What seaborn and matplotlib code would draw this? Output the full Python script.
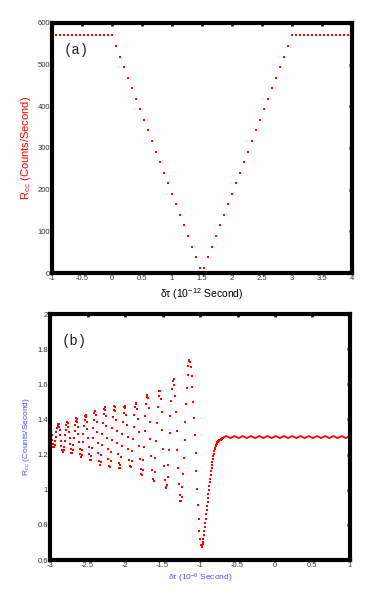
import pandas as pd
import seaborn as sns
import matplotlib
matplotlib.use('Agg')
import matplotlib.pyplot as plt

# Panel (a): coincidence rate vs delay, 10^-12 s
a_delay = [-1.0, -0.933, -0.867, -0.8, -0.733, -0.667, -0.6, -0.533, -0.467, -0.4,
           -0.333, -0.267, -0.2, -0.133, -0.067, 0.0, 0.067, 0.133, 0.2, 0.267,
           0.333, 0.4, 0.467, 0.533, 0.6, 0.667, 0.733, 0.8, 0.867, 0.933,
           1.0, 1.067, 1.133, 1.2, 1.267, 1.333, 1.4, 1.467, 1.533, 1.6,
           1.667, 1.733, 1.8, 1.867, 1.933, 2.0, 2.067, 2.133, 2.2, 2.267,
           2.333, 2.4, 2.467, 2.533, 2.6, 2.667, 2.733, 2.8, 2.867, 2.933,
           3.0, 3.067, 3.133, 3.2, 3.267, 3.333, 3.4, 3.467, 3.533, 3.6,
           3.667, 3.733, 3.8, 3.867, 3.933, 4.0]
a_rate = [570] * 16 + [545, 519, 494, 469, 443, 418, 393, 367, 342, 317, 291, 266,
                       241, 215, 190, 165, 139, 114, 89, 63, 38, 13,
                       13, 38, 63, 89, 114, 139, 165, 190, 215, 241, 266, 291,
                       317, 342, 367, 393, 418, 443, 469, 494, 519, 545] + [570] * 16

# Panel (b): coincidence rate vs delay, 10^-8 s (dotted part, one row per half swing)
b_osc_delay = [
    -3.0000, -2.9958, -2.9875, -2.9792, -2.9708, -2.9625, -2.9542,
    -2.9444, -2.9369, -2.9294, -2.9219, -2.9144, -2.9069, -2.8994, -2.8919,
    -2.8863, -2.8788, -2.8713, -2.8638, -2.8563, -2.8488, -2.8413, -2.8338,
    -2.8281, -2.8206, -2.8131, -2.8056, -2.7981, -2.7906, -2.7831, -2.7756,
    -2.7700, -2.7625, -2.7550, -2.7475, -2.7400, -2.7325, -2.7250, -2.7175,
    -2.7043, -2.6967, -2.6890, -2.6814, -2.6738, -2.6662, -2.6585, -2.6509,
    -2.6452, -2.6376, -2.6299, -2.6223, -2.6147, -2.6071, -2.5994, -2.5918,
    -2.5861, -2.5783, -2.5706, -2.5628, -2.5551, -2.5473, -2.5396, -2.5318,
    -2.5260, -2.5181, -2.5102, -2.5024, -2.4945, -2.4866, -2.4787, -2.4709,
    -2.4571, -2.4492, -2.4413, -2.4335, -2.4256, -2.4177, -2.4098, -2.4020,
    -2.3960, -2.3880, -2.3800, -2.3720, -2.3640, -2.3560, -2.3480, -2.3400,
    -2.3340, -2.3260, -2.3180, -2.3100, -2.3020, -2.2940, -2.2860, -2.2780,
    -2.2720, -2.2639, -2.2557, -2.2476, -2.2395, -2.2314, -2.2232, -2.2151,
    -2.2008, -2.1926, -2.1843, -2.1761, -2.1678, -2.1596, -2.1513, -2.1431,
    -2.1368, -2.1284, -2.1201, -2.1117, -2.1033, -2.0949, -2.0866, -2.0782,
    -2.0718, -2.0632, -2.0546, -2.0460, -2.0373, -2.0287, -2.0201, -2.0115,
    -2.0050, -1.9954, -1.9857, -1.9761, -1.9665, -1.9569, -1.9472, -1.9376,
    -1.9210, -1.9116, -1.9022, -1.8928, -1.8835, -1.8741, -1.8647, -1.8553,
    -1.8483, -1.8389, -1.8296, -1.8202, -1.8108, -1.8014, -1.7921, -1.7827,
    -1.7757, -1.7663, -1.7569, -1.7475, -1.7382, -1.7288, -1.7194, -1.7100,
    -1.7030, -1.6929, -1.6827, -1.6726, -1.6625, -1.6524, -1.6422, -1.6321,
    -1.6143, -1.6041, -1.5938, -1.5836, -1.5733, -1.5631, -1.5528, -1.5426,
    -1.5345, -1.5235, -1.5125, -1.5015, -1.4905, -1.4795, -1.4685, -1.4575,
    -1.4520, -1.4424, -1.4328, -1.4232, -1.4136, -1.4040, -1.3944, -1.3848, -1.3752, -1.3656,
    -1.3511, -1.3413, -1.3315, -1.3217, -1.3119, -1.3021, -1.2923, -1.2825, -1.2727, -1.2629,
    -1.2532, -1.2435, -1.2338, -1.2242, -1.2145, -1.2048, -1.1952, -1.1855, -1.1758, -1.1662,
    -1.1565, -1.1468,
    -1.1420, -1.1318, -1.1215, -1.1113, -1.1010, -1.0908, -1.0805, -1.0703, -1.0600, -1.0498,
    -1.0395, -1.0293, -1.0190, -1.0088, -0.9985, -0.9883,
    -0.978, -0.972, -0.966, -0.960, -0.954, -0.948, -0.942, -0.936, -0.930, -0.924,
    -0.918, -0.912, -0.906, -0.900, -0.894, -0.888, -0.882, -0.876, -0.870, -0.864,
    -0.858, -0.852, -0.846, -0.840, -0.834, -0.828, -0.822, -0.816, -0.810, -0.804,
    -0.798, -0.792, -0.786, -0.780, -0.774, -0.768, -0.762, -0.756, -0.750, -0.744,
    -0.738, -0.732, -0.726, -0.720, -0.714, -0.708, -0.702, -0.696, -0.690]
b_osc_rate = [
    1.355, 1.353, 1.338, 1.313, 1.284, 1.258, 1.244,
    1.245, 1.257, 1.277, 1.301, 1.326, 1.349, 1.365, 1.373,
    1.372, 1.360, 1.338, 1.309, 1.278, 1.249, 1.227, 1.216,
    1.214, 1.224, 1.246, 1.275, 1.309, 1.341, 1.367, 1.383,
    1.387, 1.380, 1.360, 1.330, 1.295, 1.260, 1.230, 1.210,
    1.207, 1.226, 1.257, 1.295, 1.334, 1.369, 1.394, 1.406,
    1.404, 1.387, 1.357, 1.317, 1.273, 1.233, 1.203, 1.186,
    1.185, 1.198, 1.228, 1.270, 1.317, 1.363, 1.399, 1.422,
    1.427, 1.417, 1.388, 1.345, 1.295, 1.244, 1.201, 1.172,
    1.168, 1.195, 1.239, 1.293, 1.349, 1.399, 1.435, 1.451,
    1.449, 1.426, 1.383, 1.326, 1.265, 1.209, 1.165, 1.142,
    1.140, 1.159, 1.199, 1.256, 1.320, 1.382, 1.431, 1.462,
    1.469, 1.456, 1.418, 1.362, 1.296, 1.230, 1.174, 1.137,
    1.132, 1.164, 1.217, 1.283, 1.351, 1.412, 1.455, 1.475,
    1.473, 1.446, 1.397, 1.334, 1.265, 1.201, 1.152, 1.125,
    1.123, 1.143, 1.187, 1.249, 1.318, 1.385, 1.439, 1.471,
    1.479, 1.465, 1.426, 1.368, 1.299, 1.230, 1.172, 1.133,
    1.127, 1.161, 1.218, 1.288, 1.360, 1.425, 1.471, 1.492,
    1.489, 1.459, 1.402, 1.328, 1.249, 1.175, 1.118, 1.088,
    1.085, 1.111, 1.167, 1.246, 1.334, 1.419, 1.487, 1.529,
    1.539, 1.520, 1.466, 1.385, 1.290, 1.194, 1.113, 1.059,
    1.051, 1.100, 1.179, 1.277, 1.379, 1.469, 1.534, 1.564,
    1.560, 1.518, 1.442, 1.342, 1.234, 1.134, 1.058, 1.016,
    1.011, 1.026, 1.071, 1.139, 1.226, 1.323, 1.419, 1.506, 1.575, 1.619,
    1.630, 1.596, 1.531, 1.442, 1.337, 1.227, 1.122, 1.033, 0.968, 0.934,
    0.934, 0.961, 1.014, 1.088, 1.179, 1.281, 1.387, 1.489, 1.580, 1.655,
    1.707, 1.735,
    1.738, 1.728, 1.698, 1.649, 1.583, 1.502, 1.410, 1.311, 1.207, 1.104,
    1.004, 0.912, 0.832, 0.766, 0.717, 0.686,
    0.676, 0.680, 0.690, 0.704, 0.722, 0.742, 0.765, 0.788, 0.812, 0.836,
    0.860, 0.884, 0.908, 0.932, 0.955, 0.978, 1.000, 1.022, 1.043, 1.064,
    1.085, 1.105, 1.125, 1.143, 1.160, 1.177, 1.192, 1.206, 1.218, 1.230,
    1.240, 1.249, 1.256, 1.262, 1.267, 1.271, 1.274, 1.277, 1.279, 1.281,
    1.282, 1.284, 1.285, 1.287, 1.288, 1.290, 1.292, 1.294, 1.296]

# Panel (b): flat rippled tail
b_flat_delay = [-0.690, -0.678, -0.6505, -0.623, -0.5955, -0.568, -0.5405, -0.513, -0.4855,
                -0.458, -0.4305, -0.403, -0.3755, -0.348, -0.3205, -0.293, -0.2655,
                -0.238, -0.2105, -0.183, -0.1555, -0.128, -0.1005, -0.073, -0.0455,
                -0.018, 0.0095, 0.037, 0.0645, 0.092, 0.1195, 0.147, 0.1745, 0.202,
                0.2295, 0.257, 0.2845, 0.312, 0.3395, 0.367, 0.3945, 0.422, 0.4495,
                0.477, 0.5045, 0.532, 0.5595, 0.587, 0.6145, 0.642, 0.6695, 0.697,
                0.7245, 0.752, 0.7795, 0.807, 0.8345, 0.862, 0.8895, 0.917, 0.9445,
                0.972, 0.9995]
b_flat_rate = [1.296] + [1.300, 1.306, 1.300, 1.294] * 15 + [1.300, 1.306]

a_xticks = [-1, -0.5, 0, 0.5, 1, 1.5, 2, 2.5, 3, 3.5, 4]
a_xlabels = ['-1', '-0.5', '0', '0.5', '1', '1.5', '2', '2.5', '3', '3.5', '4']
a_yticks = [0, 100, 200, 300, 400, 500, 600]
b_xticks = [-3, -2.5, -2, -1.5, -1, -0.5, 0, 0.5, 1]
b_xlabels = ['-3', '-2.5', '-2', '-1.5', '-1', '-0.5', '0', '0.5', '1']
b_yticks = [0.6, 0.8, 1.0, 1.2, 1.4, 1.6, 1.8, 2.0]
b_ylabels = ['0.6', '0.8', '1', '1.2', '1.4', '1.6', '1.8', '2']

df_a = pd.DataFrame({'delay': a_delay, 'rate': a_rate})
df_b = pd.DataFrame({'delay': b_osc_delay, 'rate': b_osc_rate})
df_flat = pd.DataFrame({'delay': b_flat_delay, 'rate': b_flat_rate})

sns.set_style('white')
plt.rcParams['font.family'] = ['Liberation Sans', 'DejaVu Sans']
plt.rcParams['mathtext.default'] = 'regular'

fig = plt.figure(figsize=(3.88, 5.94), dpi=100)
ax_a = fig.add_axes([0.134, 0.5404, 0.773, 0.4209])
ax_b = fig.add_axes([0.129, 0.0572, 0.773, 0.414])

red = '#ff0000'
blue = '#5050ff'

sns.scatterplot(data=df_a, x='delay', y='rate', ax=ax_a, color=red, s=2,
                marker='s', linewidth=0)
sns.scatterplot(data=df_b, x='delay', y='rate', ax=ax_b, color=red, s=2,
                marker='s', linewidth=0)
sns.lineplot(data=df_flat, x='delay', y='rate', ax=ax_b, color=red, lw=1.3,
             sort=False, estimator=None)

for ax in (ax_a, ax_b):
    for s in ax.spines.values():
        s.set_linewidth(3)
        s.set_color('black')
    ax.tick_params(direction='in', length=2.5, width=2, labelsize=5.5,
                   labelcolor='#333333', top=True, right=True, pad=1.5)

ax_a.set_xlim(-1, 4)
ax_a.set_ylim(0, 600)
ax_a.set_xticks(a_xticks)
ax_a.set_xticklabels(a_xlabels)
ax_a.set_yticks(a_yticks)
ax_a.set_xlabel(r'δτ (10$^{-12}$ Second)', fontsize=7.5, color='black', labelpad=3)
ax_a.set_ylabel(r'R$_{cc}$ (Counts/Second)', fontsize=8, color=red, labelpad=3)
ax_a.text(0.04, 0.89, '(a)', transform=ax_a.transAxes, fontsize=10,
          family='Liberation Mono', color='#222222', va='center')

ax_b.set_xlim(-3, 1)
ax_b.set_ylim(0.6, 2.0)
ax_b.set_xticks(b_xticks)
ax_b.set_xticklabels(b_xlabels)
ax_b.set_yticks(b_yticks)
ax_b.set_yticklabels(b_ylabels)
ax_b.set_xlabel(r'δτ (10$^{-8}$ Second)', fontsize=6, color=blue, labelpad=2)
ax_b.set_ylabel(r'R$_{cc}$ (Counts/Second)', fontsize=6, color=blue, labelpad=4)
ax_b.text(0.04, 0.89, '(b)', transform=ax_b.transAxes, fontsize=10,
          family='Liberation Mono', color='#222222', va='center')

fig.savefig('out.png', dpi=100)
